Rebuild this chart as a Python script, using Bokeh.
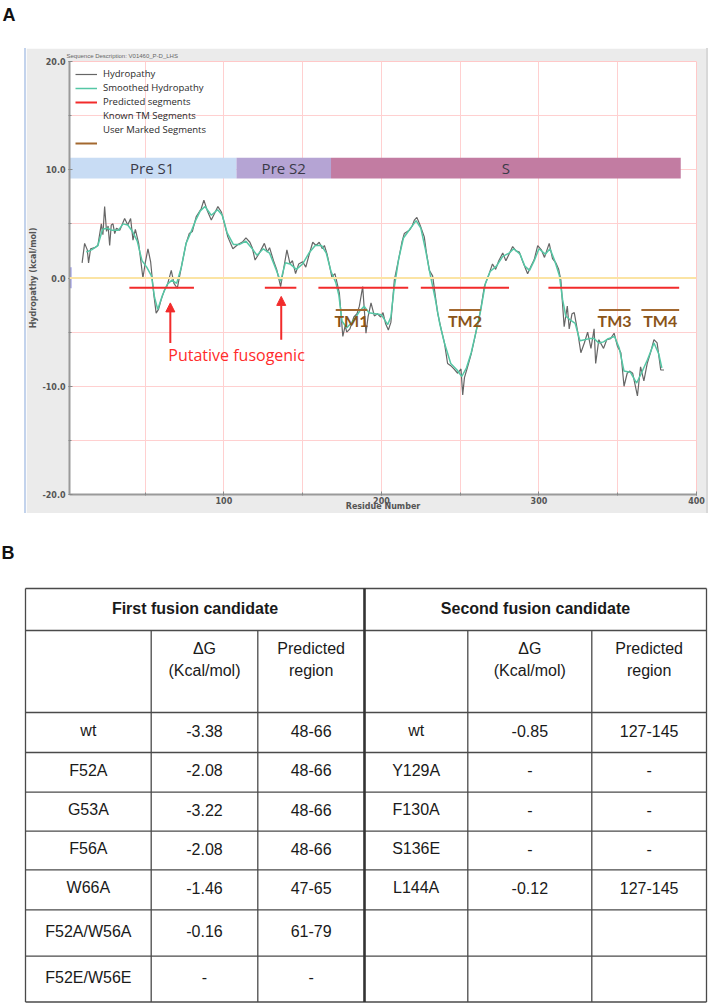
from bokeh.plotting import figure
from bokeh.models import (ColumnDataSource, Range1d, SingleIntervalTicker, NumeralTickFormatter,
                          Span, Arrow, NormalHead, Legend, LegendItem, Div, Spacer)
from bokeh.layouts import column, row
from bokeh.core.properties import value
from bokeh.embed import file_html
from bokeh.resources import INLINE

# ---------------- data: hydropathy profile ----------------
hydro_res = [10, 11.6, 13.3, 14.1, 15.4, 18, 20, 22.2, 23.2, 24.3, 25.5, 26.5, 27.5, 28.5, 29.6, 30.7, 31.8,
             33.9, 37, 39, 40.8, 42.3, 43.8, 45.9, 48.6, 50.2, 51.8, 53.5, 55.5, 57, 58.5, 60.2, 62.3, 64,
             66.6, 68.3, 70.4, 73, 76, 78, 80, 82.4, 85.6, 87.3, 89.5, 92, 94.2, 96.2, 98.4, 100.4, 102.5,
             105.7, 108.9, 112, 114, 116.5, 118, 119.8, 122.5, 125.7, 127.5, 129, 131.5, 133.5, 136, 138,
             140, 142, 143.5, 145.5, 147.5, 150, 152, 154, 156.4, 158.5, 160.5, 162.5, 163.8, 165.5, 167,
             168.5, 170.5, 173.3, 175.5, 177, 178, 180, 182.5, 184.5, 186, 188.1, 190.2, 191.5, 193.4,
             195.5, 197.5, 199.5, 201, 202.6, 204.4, 206, 208.2, 211.3, 213, 214.5, 217.7, 219.5, 220.9,
             222.5, 224.5, 227.2, 228.5, 230.4, 232.5, 235.7, 238, 240, 242, 244, 246, 248.4, 250.5, 251.6,
             252.7, 254.7, 257, 259, 261, 263, 265.3, 268.4, 270.5, 272.5, 274.5, 277, 279, 281, 283.3,
             285.4, 287.5, 290, 292.8, 295, 297, 299.2, 301.5, 303.5, 306.5, 308.6, 310.7, 312.5, 313.9,
             316, 318, 319.2, 321, 322.4, 324.5, 326.6, 328.8, 330.9, 333, 335, 336, 338, 341, 343, 345.5,
             347.7, 349.8, 352, 354, 356, 357.5, 359.5, 362.5, 364.5, 366.6, 368.7, 371, 373, 375, 377.3,
             379.4]
hydro_val = [1.4, 3.2, 2.6, 1.4, 2.7, 2.8, 3.0, 5.0, 4.0, 6.6, 4.3, 4.8, 3.0, 4.9, 5.0, 4.1, 4.6,
             4.4, 5.5, 4.9, 5.5, 3.5, 4.5, 3.2, 0.0, 1.5, 2.7, 1.5, -1.5, -3.25, -2.9, -2.0, -1.1, -0.7,
             0.7, -0.5, -0.95, 1.0, 3.2, 4.1, 4.3, 5.65, 6.4, 7.2, 6.2, 5.35, 6.0, 6.6, 6.1, 5.0, 3.8,
             2.7, 3.1, 3.35, 3.7, 3.3, 2.8, 1.66, 2.3, 3.2, 2.4, 2.8, 1.6, 0.8, -0.8, 0.9,
             2.6, 1.3, 1.6, 0.4, 1.3, 1.5, 1.0, 2.1, 3.3, 3.0, 3.3, 2.7, 3.0, 2.2, 1.2,
             0.1, 0.4, -1.4, -5.4, -4.4, -5.0, -4.7, -3.6, -3.3, -2.6, -0.8, -5.1, -3.6, -2.3,
             -3.5, -3.3, -3.6, -3.2, -4.2, -4.8, -4.1, -0.2, 2.0, 3.3, 4.1, 4.4, 4.8, 5.35,
             5.6, 4.9, 3.8, 2.4, 0.7, 0.2, -3.25, -4.8, -6.0, -7.9, -8.1, -8.4, -8.8, -8.4, -10.8,
             -9.2, -8.2, -7.0, -5.7, -4.3, -2.95, -0.8, 0.4, 1.3, 0.8, 1.6, 2.3, 1.6, 2.2, 2.9,
             2.5, 2.4, 1.4, 0.4, 1.1, 1.7, 3.0, 2.6, 1.9, 3.2, 1.8, 1.4, 0.8, -0.2,
             -4.5, -2.6, -4.7, -3.3, -3.2, -4.9, -6.9, -6.0, -5.0, -6.5, -4.7, -7.9, -5.7, -6.5, -5.7, -5.6,
             -5.1, -6.3, -6.9, -10.0, -8.8, -8.6, -8.8, -10.9, -8.2, -9.5, -7.9, -6.8, -5.7, -6.0, -8.5,
             -8.5]

smooth_res = [12.7, 16, 20, 23, 26, 29, 33, 36, 39, 42, 45, 48, 51, 54, 56, 58, 61, 64, 67, 70, 73, 76, 79,
              82, 85, 88, 92, 96, 99, 102, 106, 110, 114, 118, 121, 125, 129, 132, 136, 139, 142, 146, 150,
              154, 158, 162, 165, 168, 171, 173, 175, 178, 182, 186, 189, 192, 196, 200, 204, 206, 208, 211,
              214, 218, 222, 225, 228, 231, 234, 237, 240, 244, 248, 251, 254, 257, 260, 263, 266, 269, 273,
              277, 281, 284, 288, 291, 294, 297, 300, 304, 307, 310, 313, 315, 317, 320, 323, 326, 329, 332,
              335, 338, 341, 344, 348, 351, 354, 358, 362, 365, 369, 373, 376, 378]
smooth_val = [2.4, 2.6, 3.0, 4.5, 4.6, 4.4, 4.4, 5.0, 4.9, 4.3, 3.4, 1.6, 1.0, 0.2, -1.8, -2.9, -1.6, -0.6,
              -0.2, -0.5, 1.0, 3.2, 4.2, 5.3, 6.2, 6.6, 5.8, 6.3, 5.8, 4.2, 3.1, 3.1, 3.4, 2.7, 2.1, 2.7,
              2.3, 1.2, -0.3, 1.4, 1.3, 0.8, 1.3, 2.3, 3.0, 3.0, 2.3, 0.6, -0.4, -1.6, -4.0, -4.6, -4.0,
              -3.1, -2.6, -3.2, -3.3, -3.4, -4.3, -3.6, -1.0, 1.8, 3.7, 4.5, 5.3, 4.6, 2.6, 0.3, -1.8, -4.2,
              -6.0, -7.9, -8.5, -9.1, -8.3, -6.9, -5.0, -3.0, -0.5, 0.6, 1.1, 2.0, 2.3, 2.7, 2.2, 1.1, 0.7,
              1.6, 2.7, 2.2, 2.7, 1.6, 0.2, -2.0, -3.5, -3.9, -4.2, -5.8, -5.7, -5.6, -5.6, -6.0, -5.9,
              -5.6, -5.4, -6.5, -8.6, -8.7, -9.7, -8.8, -7.5, -6.0, -7.0, -8.3]

band_names = ["Pre S1", "Pre S2", "S"]
band_start = [1, 108, 168]
band_end = [108, 168, 390]
band_colors = ["#c8dcf4", "#b5a4d4", "#c27ca2"]

pred_start = [40, 126, 160, 225, 306]
pred_end = [81, 146, 217, 281, 389]
pred_level = -0.9

tm_names = ["TM1", "TM2", "TM3", "TM4"]
tm_start = [171, 243, 338, 365]
tm_end = [191, 263, 358, 389]
tm_level = -2.95

fus_res = [66, 136.4]
fus_tail = [-6.0, -5.7]
fus_tip = [-2.3, -1.7]
fus_label = "Putative fusogenic"

# ---------------- data: table ----------------
first_title = "First fusion candidate"
second_title = "Second fusion candidate"
first_mut = ["wt", "F52A", "G53A", "F56A", "W66A", "F52A/W56A", "F52E/W56E"]
first_dg = ["-3.38", "-2.08", "-3.22", "-2.08", "-1.46", "-0.16", "-"]
first_reg = ["48-66", "48-66", "48-66", "48-66", "47-65", "61-79", "-"]
second_mut = ["wt", "Y129A", "F130A", "S136E", "L144A", "", ""]
second_dg = ["-0.85", "-", "-", "-", "-0.12", "", ""]
second_reg = ["127-145", "-", "-", "-", "127-145", "", ""]

# ---------------- styles ----------------
PINK = "#ffd0d0"
GRAY_LINE = "#666666"
TEAL = "#55c7a5"
RED = "#f22b2b"
BROWN = "#a3682f"
BROWN_TXT = "#8a5418"
BLUE = "#7474dc"

# ---------------- header "A" ----------------
headA = figure(width=708, height=48, x_range=Range1d(0, 708), y_range=Range1d(48, 0),
               output_backend="svg", toolbar_location=None, x_axis_type=None, y_axis_type=None,
               min_border=0, outline_line_color=None)
headA.text(x=[2], y=[14], text=["A"], text_font=value("Liberation Sans"), text_font_size="18px",
           text_font_style="bold", text_color="#111", text_baseline="middle")

# ---------------- panel A plot ----------------
pA = figure(width=680, height=465, x_range=Range1d(2, 400), y_range=Range1d(-20, 20),
            output_backend="svg", toolbar_location=None,
            min_border_left=42, min_border_right=10, min_border_top=13, min_border_bottom=18,
            border_fill_color="#ebebeb", background_fill_color="white",
            title="Sequence Description: V01460_P-D_LHS")
pA.title.text_font_size = "6px"
pA.title.text_font_style = "normal"
pA.title.text_color = "#666"
pA.title.align = "left"
pA.title.standoff = 5
pA.title.offset = -3
pA.outline_line_color = "#ffc8c8"

pA.xaxis.ticker = SingleIntervalTicker(interval=100, num_minor_ticks=2)
pA.yaxis.ticker = SingleIntervalTicker(interval=10, num_minor_ticks=2)
pA.yaxis.formatter = NumeralTickFormatter(format="0.0")
for g in (pA.xgrid, pA.ygrid):
    g.grid_line_color = PINK
    g.minor_grid_line_color = PINK
for ax in (pA.xaxis, pA.yaxis):
    ax.axis_line_color = "#9a9a9a"
    ax.axis_line_width = 2
    ax.major_tick_line_color = "#8a8a8a"
    ax.minor_tick_line_color = "#8a8a8a"
    ax.major_tick_in = 3
    ax.major_tick_out = 1
    ax.minor_tick_in = 2
    ax.minor_tick_out = 1
    ax.major_label_text_font = "DejaVu Sans"
    ax.major_label_text_font_size = "8px"
    ax.major_label_text_font_style = "bold"
    ax.major_label_text_color = "#555"
    ax.axis_label_text_font = "DejaVu Sans"
    ax.axis_label_text_font_size = "8px"
    ax.axis_label_text_font_style = "bold"
    ax.axis_label_text_color = "#555"
pA.yaxis.axis_label = "Hydropathy (kcal/mol)"
pA.xaxis.axis_label = "Residue Number"
pA.yaxis.major_label_standoff = 3
pA.yaxis.axis_label_standoff = 1
pA.xaxis.major_label_standoff = 1
pA.xaxis.axis_label_standoff = -5

pA.add_layout(Span(location=0, dimension="width", line_color="#fbe4a4", line_width=2))

band_src = ColumnDataSource(dict(left=band_start, right=band_end, color=band_colors, name=band_names,
                                 mid=[(a + b) / 2 for a, b in zip(band_start, band_end)]))
pA.quad(left="left", right="right", bottom=9.2, top=11.1, fill_color="color", line_color=None,
        source=band_src)
pA.text(x="mid", y=10.15, text="name", source=band_src, text_align="center", text_baseline="middle",
        text_font=value("Open Sans"), text_font_size="15px", text_color="#3a3a48")

r_raw = pA.line(hydro_res, hydro_val, line_color=GRAY_LINE, line_width=1.2)
r_smooth = pA.line(smooth_res, smooth_val, line_color=TEAL, line_width=1.5)

r_pred = pA.segment(x0=pred_start, x1=pred_end, y0=pred_level, y1=pred_level,
                    line_color=RED, line_width=2)
tm_src = ColumnDataSource(dict(x0=tm_start, x1=tm_end, name=tm_names,
                               mid=[(a + b) / 2 for a, b in zip(tm_start, tm_end)]))
r_tm = pA.segment(x0="x0", x1="x1", y0=tm_level, y1=tm_level, source=tm_src,
                  line_color=BROWN, line_width=2)
pA.text(x="mid", y=tm_level - 1.02, text="name", source=tm_src, text_align="center",
        text_baseline="middle", text_font=value("Lato"), text_font_size="16px",
        text_font_style="bold", text_color=BROWN_TXT)

# marker of the zero level on the axis
pA.segment(x0=2, x1=9.6, y0=0, y1=0, line_color=BLUE, line_width=2)
pA.segment(x0=2.4, x1=2.4, y0=-0.95, y1=1.0, line_color="#8c8ce2", line_width=3, line_alpha=0.8)

fus_src = ColumnDataSource(dict(x=fus_res, y0=fus_tail, y1=fus_tip))
pA.add_layout(Arrow(source=fus_src, x_start="x", y_start="y0", x_end="x", y_end="y1",
                    line_color=RED, line_width=2,
                    end=NormalHead(size=9, fill_color=RED, line_color=RED)))
pA.text(x=[fus_res[0] - 1.3], y=[-7.1], text=[fus_label], text_baseline="middle",
        text_font=value("Open Sans"), text_font_size="16px", text_color="#ff2b2b")

r_known = pA.line(x=[], y=[], line_alpha=0)
r_user = pA.line(x=[], y=[], line_color=BLUE, line_width=2)
legend = Legend(items=[
    LegendItem(label="Hydropathy", renderers=[r_raw]),
    LegendItem(label="Smoothed Hydropathy", renderers=[r_smooth]),
    LegendItem(label="Predicted segments", renderers=[r_pred]),
    LegendItem(label="Known TM Segments", renderers=[r_known]),
    LegendItem(label="User Marked Segments", renderers=[r_user]),
    LegendItem(label=" ", renderers=[r_tm]),
], location="top_left", margin=2, padding=4, spacing=1, glyph_width=22, glyph_height=12,
    label_height=12, label_standoff=6, background_fill_alpha=0, border_line_alpha=0,
    label_text_font="Open Sans", label_text_font_size="9.5px", label_text_color="#2a2a2a")
pA.add_layout(legend)

blue_edge = Div(text="", width=2, height=465, margin=0, styles={"background-color": "#c3d3ec"})
right_edge = Div(text="", width=2, height=465, margin=0, styles={"background-color": "#d8d8d8"})
rowA = row(Spacer(width=24, height=465), blue_edge, pA, right_edge)

# ---------------- panel B: table ----------------
pB = figure(width=708, height=492, x_range=Range1d(0, 708), y_range=Range1d(1005, 513),
            output_backend="svg", toolbar_location=None, x_axis_type=None, y_axis_type=None,
            min_border=0, outline_line_color=None)
pB.text(x=[1], y=[552], text=["B"], text_font=value("Liberation Sans"), text_font_size="18px",
        text_font_style="bold", text_color="#111", text_baseline="middle")

col_edges = [25, 150.7, 257.3, 364, 467.3, 591.3, 706]
row_edges = [588, 630, 712, 752, 791.7, 830.7, 869.3, 909.3, 955.7, 1001.5]
LINE = "#4a4a4a"
left, right, top, bottom = col_edges[0], col_edges[-1], row_edges[0], row_edges[-1]

pB.segment(x0=[left] * len(row_edges), x1=[right] * len(row_edges), y0=row_edges, y1=row_edges,
           line_color=LINE, line_width=1.3)
inner = [col_edges[1], col_edges[2], col_edges[4], col_edges[5]]
pB.segment(x0=inner, x1=inner, y0=[row_edges[1]] * 4, y1=[bottom] * 4, line_color=LINE, line_width=1.3)
pB.segment(x0=[left, right], x1=[left, right], y0=[top, top], y1=[bottom, bottom],
           line_color=LINE, line_width=1.3)
pB.segment(x0=[col_edges[3]], x1=[col_edges[3]], y0=[top], y1=[bottom], line_color="#333",
           line_width=2.6)

TF = value("Liberation Sans")
hy = (row_edges[0] + row_edges[1]) / 2 - 1
pB.text(x=[(col_edges[0] + col_edges[3]) / 2, (col_edges[3] + col_edges[6]) / 2], y=[hy, hy],
        text=[first_title, second_title], text_align="center", text_baseline="middle",
        text_font=TF, text_font_size="16px", text_font_style="bold", text_color="#1a1a1a")

cmid = [(col_edges[i] + col_edges[i + 1]) / 2 for i in range(6)]
sub_y1 = row_edges[1] + 18
sub_y2 = row_edges[1] + 40
pB.text(x=[cmid[1], cmid[2], cmid[4], cmid[5]], y=[sub_y1] * 4,
        text=["ΔG", "Predicted", "ΔG", "Predicted"], text_align="center", text_baseline="middle",
        text_font=TF, text_font_size="16px", text_color="#1a1a1a")
pB.text(x=[cmid[1], cmid[2], cmid[4], cmid[5]], y=[sub_y2] * 4,
        text=["(Kcal/mol)", "region", "(Kcal/mol)", "region"], text_align="center",
        text_baseline="middle", text_font=TF, text_font_size="16px", text_color="#1a1a1a")

xs, ys, ts = [], [], []
for i in range(len(first_mut)):
    yc = (row_edges[i + 2] + row_edges[i + 3]) / 2 - 2
    for c, t in zip(range(6), [first_mut[i], first_dg[i], first_reg[i],
                               second_mut[i], second_dg[i], second_reg[i]]):
        if t:
            xs.append(cmid[c]); ys.append(yc); ts.append(t)
pB.text(x=xs, y=ys, text=ts, text_align="center", text_baseline="middle", text_font=TF,
        text_font_size="16px", text_color="#1a1a1a")

layout = column(headA, rowA, pB)
open("out.html", "w").write(file_html(layout, INLINE))
